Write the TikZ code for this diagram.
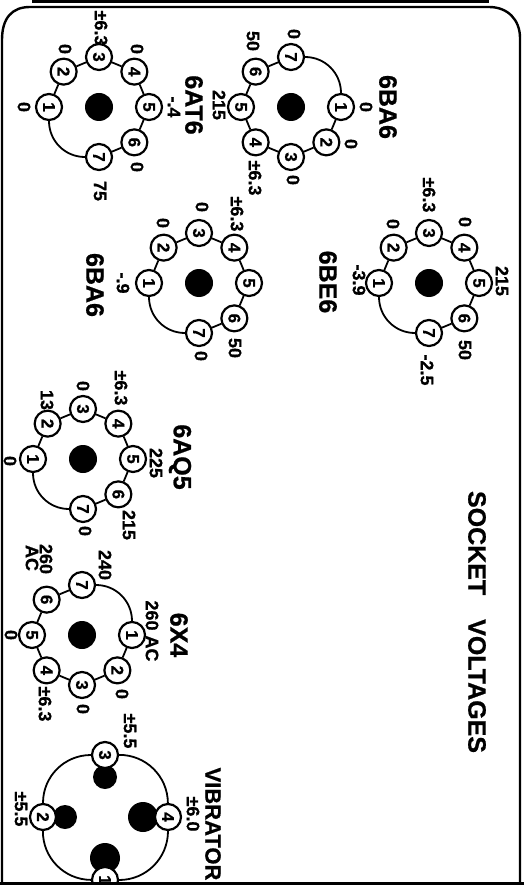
\documentclass[tikz,border=0pt]{standalone}
\usepackage{fontspec}
\setmainfont{Liberation Sans}
\newfontfamily\heavy[FakeBold=0.8]{Liberation Sans Bold}
\usetikzlibrary{calc}
\tikzset{
  pinnode/.style={circle,draw=black,fill=white,line width=2.2pt,minimum size=26pt,inner sep=0pt,rotate=-90,font=\heavy\fontsize{17}{17}\selectfont},
  lab/.style={inner sep=0pt,rotate=-90,font=\heavy\fontsize{18}{18}\selectfont},
  title/.style={inner sep=0pt,rotate=-90,font=\heavy\fontsize{25}{25}\selectfont},
  subtitle/.style={inner sep=0pt,rotate=-90,font=\heavy\fontsize{22}{22}\selectfont},
  hub/.style={circle,fill=black,inner sep=0pt,minimum size=28pt},
  ring/.style={line width=1.8pt,draw=black},
  frame/.style={line width=2.4pt,draw=black,line cap=butt}
}
\newcommand{\socketdraw}[4]{%
  \node[hub] (#1hub) at (#2,#3) {};
  \foreach \n in {1,...,7} {
    \pgfmathsetmacro{\ang}{#4+(\n-1)*45}
    \node[pinnode] (#1\n) at ($(#2,#3)+(\ang:50)$) {\n};
  }
  \draw[ring] (#11)--(#12);\draw[ring] (#12)--(#13);\draw[ring] (#13)--(#14);
  \draw[ring] (#14)--(#15);\draw[ring] (#15)--(#16);\draw[ring] (#16)--(#17);
  \draw[ring] (#17) to[bend left=45] (#11);
}
\newcommand{\lbl}[4]{\node[lab] (#1) at (#2,#3) {#4};}
\newcommand{\ttl}[4]{\node[title] (#1) at (#2,#3) {#4};}
\begin{document}
\begin{tikzpicture}[x=1pt,y=-1pt]
\useasboundingbox (0,0) rectangle (524,885);
\clip (0,0) rectangle (524,885);
% frame
\coordinate (fa) at (30,7);
\coordinate (fb) at (489,7);
\coordinate (fc) at (520,38);
\coordinate (fd) at (520,885);
\coordinate (fe) at (2,885);
\coordinate (ff) at (2,40);
\draw[frame] (fe) -- (ff) .. controls (2,18) and (12,7) .. (fa) -- (fb) .. controls (508,7) and (520,20) .. (fc) -- (fd);
\coordinate (ta) at (32,1.5);
\coordinate (tb) at (489,1.5);
\draw[line width=3pt] (ta) -- (tb);
% sockets
\socketdraw{at}{99}{107}{180}
\socketdraw{ba}{291}{107}{0}
\socketdraw{be}{429}{283}{180}
\socketdraw{bb}{199}{283}{180}
\socketdraw{aq}{83}{459}{180}
\socketdraw{xf}{82}{635}{0}
% labels 6AT6
\lbl{a1}{101}{28}{±6.3}
\lbl{a2}{65}{49}{0}
\lbl{a3}{137}{49}{0}
\lbl{a4}{24}{107}{0}
\lbl{a5}{174}{107}{-.4}
\lbl{a6}{137}{167}{0}
\lbl{a7}{100}{191}{75}
\ttl{a8}{194}{105}{6AT6}
% 6BA6 upper
\lbl{b1}{253}{41}{50}
\lbl{b2}{219}{105}{215}
\lbl{b3}{255}{178}{±6.3}
\lbl{b4}{294}{34}{0}
\lbl{b5}{366}{107}{0}
\lbl{b6}{351}{144}{0}
\lbl{b7}{293}{180}{0}
\ttl{b8}{388}{107}{6BA6}
% 6BE6
\lbl{c1}{429}{195}{±6.3}
\lbl{c2}{393}{224}{0}
\lbl{c3}{465}{222}{0}
\lbl{c4}{502}{281}{215}
\lbl{c5}{465}{350}{50}
\lbl{c6}{427}{370}{-2.5}
\lbl{c7}{359}{280}{-3.9}
\ttl{c8}{328}{282}{6BE6}
% 6BA6 lower
\lbl{d1}{237}{214}{±6.3}
\lbl{d2}{202}{207}{0}
\lbl{d3}{163}{223}{0}
\lbl{d4}{123}{283}{-.9}
\lbl{d5}{235}{348}{50}
\lbl{d6}{201}{356}{0}
\ttl{d7}{95}{285}{6BA6}
% 6AQ5
\lbl{e1}{121}{388}{±6.3}
\lbl{e2}{83}{386}{0}
\lbl{e3}{47}{400}{13}
\lbl{e4}{10}{461}{0}
\lbl{e5}{156}{463}{225}
\lbl{e6}{129}{525}{215}
\lbl{e7}{85}{531}{0}
\ttl{e8}{180}{457}{6AQ5}
% 6X4
\lbl{f1}{105}{565}{240}
\lbl{f2}{46}{559}{260}
\lbl{f3}{32}{558}{AC}
\lbl{f4}{11}{635}{0}
\lbl{f5}{45}{704}{±6.3}
\lbl{f6}{83}{709}{0}
\lbl{f7}{122}{694}{0}
\lbl{f8}{152}{631}{260 AC}
\ttl{f9}{179}{635}{6X4}
% vibrator
\node[hub,minimum size=24pt] (v3d) at (105,777) {};
\node[hub,minimum size=24pt] (v2d) at (65,817) {};
\node[hub,minimum size=30pt] (v4d) at (143,817) {};
\node[hub,minimum size=30pt] (v1d) at (105,858) {};
\node[pinnode] (v3) at (105,755) {3};
\node[pinnode] (v2) at (43,817) {2};
\node[pinnode] (v4) at (168,817) {4};
\node[pinnode] (v1) at (105,880) {1};
\draw[ring] (v3) to[bend left=45] (v4);
\draw[ring] (v4) to[bend left=45] (v1);
\draw[ring] (v1) to[bend left=45] (v2);
\draw[ring] (v2) to[bend left=45] (v3);
\lbl{g1}{130}{731}{±5.5}
\lbl{g2}{21}{809}{±5.5}
\lbl{g3}{193}{814}{±6.0}
\node[subtitle] (g4) at (213,824) {VIBRATOR};
\ttl{t1}{477}{622}{SOCKET\hspace{24pt}VOLTAGES}
% bottom bar
\coordinate (ba) at (0,884);
\coordinate (bb) at (524,884);
\draw[line width=4pt] (ba) -- (bb);
\end{tikzpicture}
\end{document}
